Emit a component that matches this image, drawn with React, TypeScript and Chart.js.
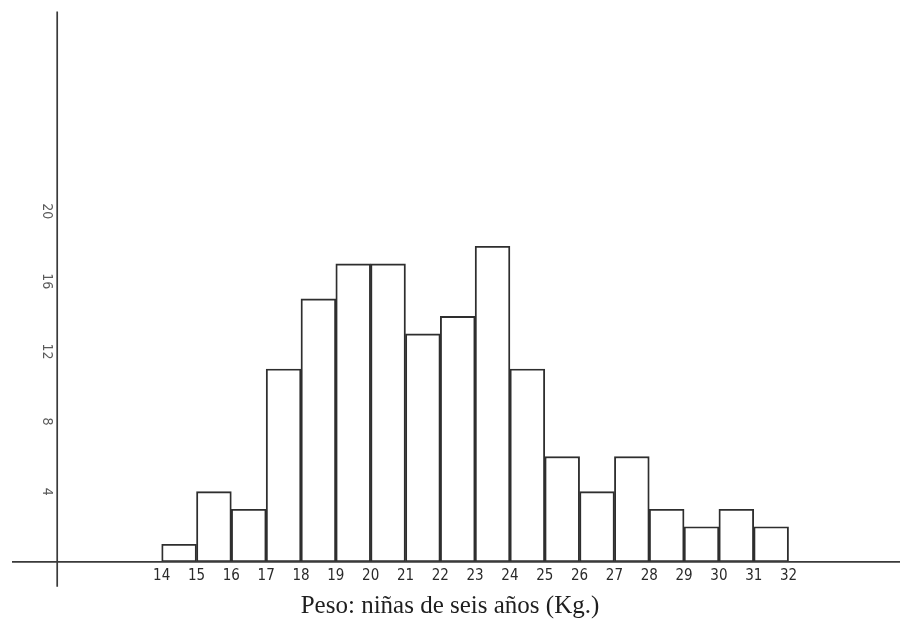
import React, { useEffect, useRef } from 'react';
import { Chart, registerables } from 'chart.js';

Chart.register(...registerables);

// Histogram data: weight bins (kg) and counts
const binStarts = [14, 15, 16, 17, 18, 19, 20, 21, 22, 23, 24, 25, 26, 27, 28, 29, 30, 31];
const counts = [1, 4, 3, 11, 15, 17, 17, 13, 14, 18, 11, 6, 4, 6, 3, 2, 3, 2];
const xTickValues = [14, 15, 16, 17, 18, 19, 20, 21, 22, 23, 24, 25, 26, 27, 28, 29, 30, 31, 32];
const yTickValues = [4, 8, 12, 16, 20];
const xAxisTitle = 'Peso: niñas de seis años (Kg.)';

const axesPlugin = {
  id: 'handAxes',
  afterDatasetsDraw(chart: any) {
    const { ctx, chartArea, scales } = chart;
    const y0 = scales.y.getPixelForValue(0);
    const xLeft = scales.x.getPixelForValue(scales.x.min);
    ctx.save();
    ctx.strokeStyle = '#3a3a3a';
    ctx.lineWidth = 1.7;
    ctx.beginPath();
    ctx.moveTo(12, y0);
    ctx.lineTo(chart.width, y0);
    ctx.moveTo(xLeft, chartArea.top);
    ctx.lineTo(xLeft, chartArea.bottom + 25);
    ctx.stroke();
    ctx.restore();
  },
};

export default function App() {
  const ref = useRef<HTMLCanvasElement | null>(null);
  useEffect(() => {
    if (!ref.current) return;
    const chart = new Chart(ref.current, {
      type: 'bar',
      data: {
        datasets: [
          {
            data: binStarts.map((s, i) => ({ x: s + 0.5, y: counts[i] })),
            backgroundColor: '#ffffff',
            borderColor: '#2e2e2e',
            borderWidth: 1.9,
            borderSkipped: false,
            barPercentage: 1,
            categoryPercentage: 1,
          },
        ],
      },
      plugins: [axesPlugin],
      options: {
        animation: false,
        responsive: true,
        maintainAspectRatio: false,
        layout: { padding: 0 },
        plugins: {
          legend: { display: false },
          tooltip: { enabled: false },
          title: {
            display: true,
            position: 'bottom',
            text: xAxisTitle,
            color: '#1e1e1e',
            font: { family: '"Liberation Serif", "Times New Roman", serif', size: 25, weight: 'normal' },
            padding: { top: 0, bottom: 2 },
          },
        },
        scales: {
          x: {
            type: 'linear',
            min: 11,
            max: 35.2,
            offset: false,
            border: { display: false },
            grid: { display: false, offset: false, drawTicks: false },
            afterBuildTicks: (scale: any) => {
              scale.ticks = xTickValues.map((v) => ({ value: v }));
            },
            afterFit: (scale: any) => {
              scale.height = 29.2;
            },
            ticks: {
              autoSkip: false,
              maxRotation: 0,
              minRotation: 0,
              padding: 5,
              color: '#2a2a2a',
              font: { family: '"Liberation Sans Narrow", "DejaVu Sans Condensed", sans-serif', size: 15 },
              callback: (v: any) => String(v),
            },
          },
          y: {
            type: 'linear',
            min: 0,
            max: 31.4,
            border: { display: false },
            grid: { display: false, drawOnChartArea: false, drawTicks: false },
            afterBuildTicks: (scale: any) => {
              scale.ticks = yTickValues.map((v) => ({ value: v }));
            },
            afterFit: (scale: any) => {
              scale.width = 57.2;
            },
            ticks: {
              autoSkip: false,
              minRotation: -90,
              maxRotation: -90,
              crossAlign: 'center',
              color: '#5a5a5a',
              font: { family: '"Liberation Sans Narrow", "DejaVu Sans Condensed", sans-serif', size: 14 },
              callback: (v: any) => String(v),
            },
          },
        },
      },
    } as any);
    return () => chart.destroy();
  }, []);
  return (
    <div style={{ position: 'fixed', left: 0, top: 0, width: 900, height: 623, background: '#ffffff' }}>
      <canvas ref={ref} />
    </div>
  );
}
